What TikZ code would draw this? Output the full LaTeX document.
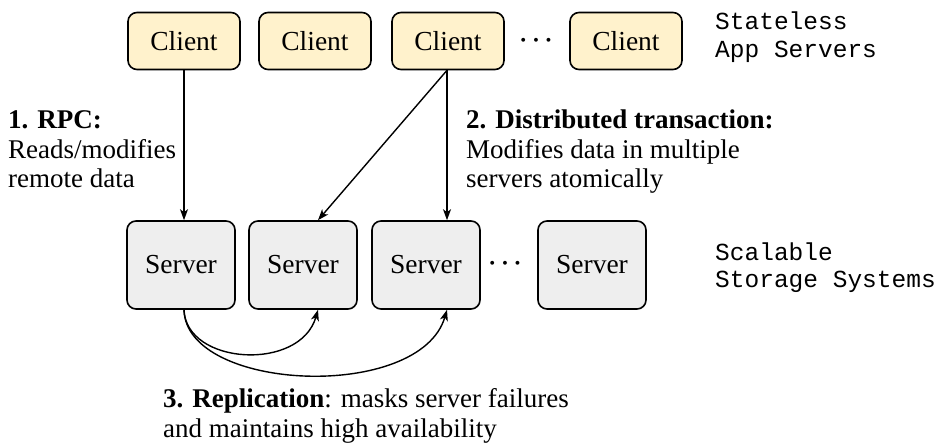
\documentclass[tikz,border=0pt]{standalone}
\usepackage{fontspec}
\setmainfont{Liberation Serif}
\setmonofont{Liberation Mono}
\usetikzlibrary{arrows.meta}
\definecolor{clientfill}{HTML}{FFF2CC}
\definecolor{serverfill}{HTML}{EEEEEE}
\tikzset{
  box/.style={draw=black, line width=1.6pt, rounded corners=9pt, minimum width=112pt, inner sep=0pt, font=\fontsize{27.5}{30}\selectfont},
  clientbox/.style={box, fill=clientfill, minimum height=57pt},
  serverbox/.style={box, fill=serverfill, minimum height=88pt, minimum width=108pt},
  link/.style={line width=1.4pt, -{Stealth[length=11pt, width=8pt, inset=3pt]}},
  note/.style={anchor=base west, inner sep=0pt, align=left, font=\fontsize{27}{29.5}\selectfont},
  tier/.style={anchor=base west, inner sep=0pt, align=left, font=\ttfamily\fontsize{24.5}{28}\selectfont},
  dots/.style={inner sep=0pt, font=\fontsize{28}{28}\selectfont\boldmath}
}
\begin{document}
\begin{tikzpicture}[x=1pt, y=-1pt]
\useasboundingbox (0,0) rectangle (936,443);

% application tier
\node[clientbox] (c1) at (184,41) {Client};
\node[clientbox] (c2) at (315,41) {Client};
\node[clientbox] (c3) at (448,41) {Client};
\node[dots] (cd) at (536,41) {$\cdots$};
\node[clientbox] (c4) at (626,41) {Client};
\node[tier] (tA) at (715,58) {Stateless\\App Servers};

% storage tier
\node[serverbox] (s1) at (181,265) {Server};
\node[serverbox] (s2) at (303,265) {Server};
\node[serverbox] (s3) at (426,265) {Server};
\node[dots] (sd) at (505,264) {$\cdots$};
\node[serverbox] (s4) at (592,265) {Server};
\node[tier] (tB) at (715,288) {Scalable\\Storage Systems};

% anchor points for the connectors
\coordinate (c1o) at (c1.south -| 184,0);
\coordinate (c3o) at (c3.south -| 447,0);
\coordinate (s1i) at (s1.north -| 184,0);
\coordinate (s2i) at (s2.north -| 318,0);
\coordinate (s3i) at (s3.north -| 447,0);
\coordinate (s1o) at (s1.south -| 184,0);
\coordinate (s2b) at (s2.south -| 318,0);
\coordinate (s3b) at (s3.south -| 447,0);

% RPC and distributed transaction
\draw[link] (c1o) -- (s1i);
\draw[link] (c3o) -- (s2i);
\draw[link] (c3o) -- (s3i);

% replication
\draw[link] (s1o) .. controls (186,365) and (300,372) .. (s2b);
\draw[link] (s1o) .. controls (186,392) and (420,402) .. (s3b);

% annotations
\node[note] (n1) at (8,188) {\textbf{1. RPC:}\\Reads/modifies\\remote data};
\node[note] (n2) at (466,188) {\textbf{2. Distributed transaction:}\\Modifies data in multiple\\servers atomically};
\node[note] (n3) at (163,437) {\textbf{3. Replication}: masks server failures\\and maintains high availability};
\end{tikzpicture}
\end{document}
